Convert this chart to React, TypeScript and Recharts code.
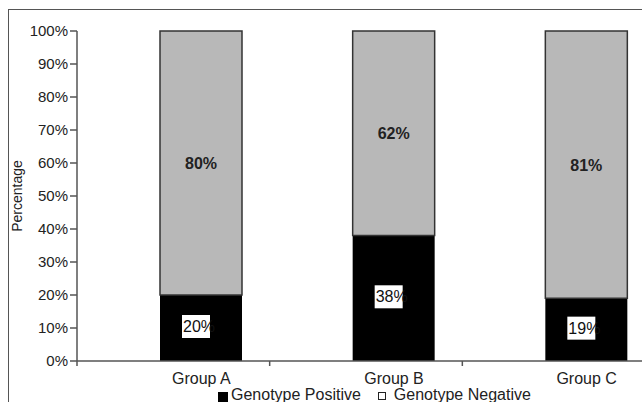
import { BarChart, Bar, XAxis, YAxis, LabelList } from "recharts";

const categories = ["Group A", "Group B", "Group C"];
const positive = [20, 38, 19];
const negative = [80, 62, 81];
const yTicks = [0, 10, 20, 30, 40, 50, 60, 70, 80, 90, 100];
const seriesNames = ["Genotype Positive", "Genotype Negative"];

const data = categories.map((name, i) => ({
  name,
  positive: positive[i],
  negative: negative[i],
}));

const FONT = "Arial, 'Liberation Sans', sans-serif";
// bars sit a little right of the category tick marks in the original
const SHIFT = 28;

function XTick(props: any) {
  const { x, y, payload, index } = props;
  const off = payload.offset ?? 0;
  const tx = x - SHIFT - off;
  return (
    <g>
      {index === 0 && (
        <line x1={tx} x2={tx} y1={y - 8} y2={y - 3} stroke="#555" strokeWidth={1.5} />
      )}
      <line x1={tx + 2 * off} x2={tx + 2 * off} y1={y - 8} y2={y - 3} stroke="#555" strokeWidth={1.5} />
      <text x={x} y={y + 15} textAnchor="middle" fontSize={16} fill="#222" fontFamily={FONT}>
        {payload.value}
      </text>
    </g>
  );
}

function PosLabel(props: any) {
  const { x, y, width, height, value } = props;
  const cx = x + width / 2;
  const cy = y + height / 2;
  return (
    <g>
      <rect x={cx - 19} y={cy - 13} width={28} height={23} fill="#fff" />
      <text x={cx - 18} y={cy + 4} fontSize={16} fill="#111" fontFamily={FONT}>
        {value}%
      </text>
    </g>
  );
}

function NegLabel(props: any) {
  const { x, y, width, height, value } = props;
  return (
    <text
      x={x + width / 2}
      y={y + height / 2 + 6}
      textAnchor="middle"
      fontSize={16}
      fontWeight="bold"
      fill="#222"
      fontFamily={FONT}
    >
      {value}%
    </text>
  );
}

export default function App() {
  return (
    <div
      style={{
        position: "fixed",
        left: 0,
        top: 0,
        width: 642,
        height: 402,
        overflow: "hidden",
        background: "#fff",
        fontFamily: FONT,
      }}
    >
      <div
        style={{
          position: "absolute",
          left: 8,
          top: 9,
          width: 700,
          height: 420,
          border: "1.5px solid #555",
        }}
      />
      <div style={{ position: "absolute", left: 9, top: 10 }}>
        <BarChart
          width={700}
          height={420}
          data={data}
          margin={{ top: 21, right: 26, bottom: 0, left: 0 }}
          barSize={82}
        >
          <XAxis
            dataKey="name"
            height={69}
            padding={{ left: SHIFT, right: 0 }}
            tickLine={false}
            axisLine={{ stroke: "#555", strokeWidth: 1.5 }}
            tick={<XTick />}
            interval={0}
          />
          <YAxis
            width={68}
            domain={[0, 100]}
            ticks={yTicks}
            interval={0}
            tickSize={7}
            tickFormatter={(v: number) => `${v}%`}
            tick={{ fontSize: 15, fill: "#222", fontFamily: FONT }}
            axisLine={{ stroke: "#555", strokeWidth: 1.5 }}
            tickLine={{ stroke: "#555", strokeWidth: 1.5 }}
            label={{
              value: "Percentage",
              angle: -90,
              position: "insideLeft",
              offset: 8,
              style: { textAnchor: "middle", fontSize: 14, fill: "#222", fontFamily: FONT },
            }}
          />
          <Bar dataKey="positive" name={seriesNames[0]} stackId="a" fill="#000" isAnimationActive={false}>
            <LabelList dataKey="positive" content={<PosLabel />} />
          </Bar>
          <Bar
            dataKey="negative"
            name={seriesNames[1]}
            stackId="a"
            fill="#b8b8b8"
            stroke="#333"
            strokeWidth={1.5}
            isAnimationActive={false}
          >
            <LabelList dataKey="negative" content={<NegLabel />} />
          </Bar>
        </BarChart>
      </div>
      <div
        style={{
          position: "absolute",
          left: 218,
          top: 387,
          display: "flex",
          alignItems: "flex-start",
          fontSize: 16,
          lineHeight: "16px",
          color: "#222",
          whiteSpace: "nowrap",
        }}
      >
        <span
          style={{ width: 10, height: 10, background: "#000", display: "inline-block", marginTop: 5, marginRight: 3 }}
        />
        <span>{seriesNames[0]}</span>
        <span
          style={{
            width: 6,
            height: 6,
            border: "1.5px solid #222",
            background: "#fff",
            display: "inline-block",
            marginTop: 5,
            marginLeft: 17,
            marginRight: 8,
          }}
        />
        <span>{seriesNames[1]}</span>
      </div>
    </div>
  );
}
